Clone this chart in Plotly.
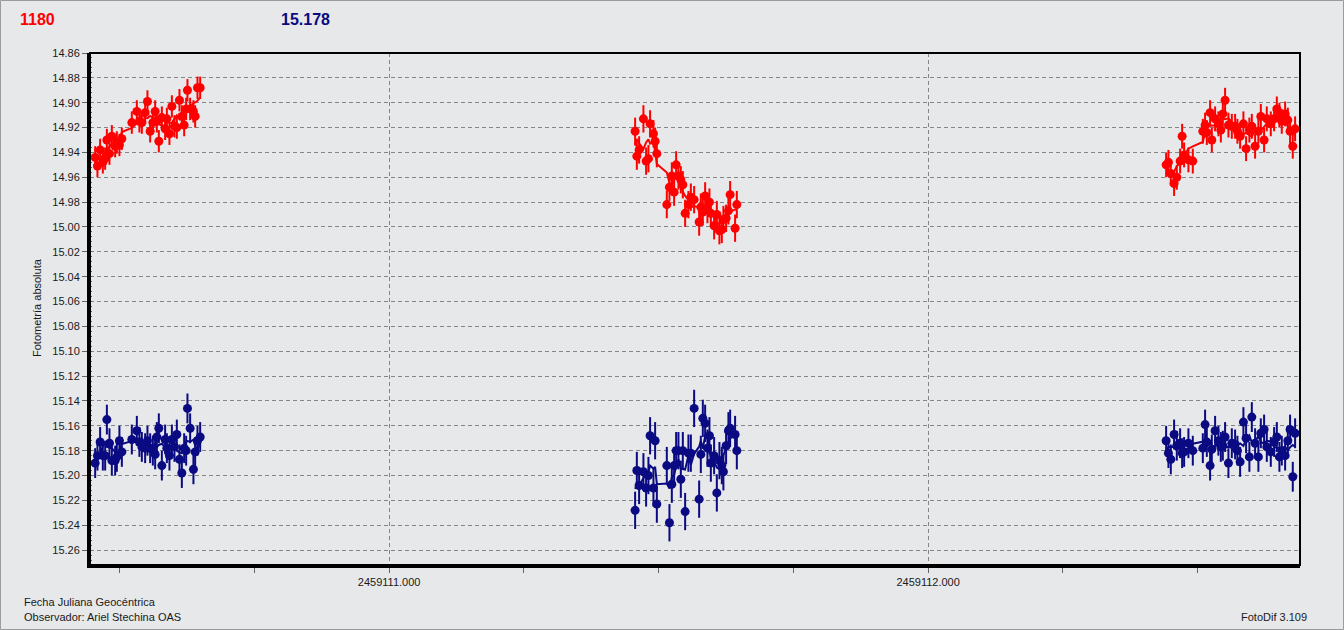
import numpy as np
import plotly.graph_objects as go

JD0 = 2459110.0

# ---- Night 1 ----
t_night1 = [0.4546, 0.4588, 0.4638, 0.4688, 0.4731, 0.4763, 0.4811, 0.4855, 0.4917, 0.4948,
            0.4996, 0.5041, 0.5226, 0.5319, 0.5367, 0.5412, 0.5473, 0.5516, 0.5566, 0.5616,
            0.5659, 0.5690, 0.5727, 0.5783, 0.5844, 0.5876, 0.5924, 0.5969, 0.6017, 0.6061,
            0.6110, 0.6154, 0.6197, 0.6234, 0.6258, 0.6308, 0.6369, 0.6401, 0.6444, 0.6494]
var_night1 = [14.944, 14.951, 14.938, 14.948, 14.945, 14.930, 14.941, 14.927, 14.935, 14.932,
              14.934, 14.929, 14.916, 14.907, 14.915, 14.916, 14.908, 14.899, 14.923, 14.916,
              14.907, 14.915, 14.931, 14.912, 14.921, 14.913, 14.925, 14.903, 14.919, 14.920,
              14.898, 14.911, 14.918, 14.905, 14.890, 14.905, 14.907, 14.911, 14.888, 14.888]
comp_night1 = [15.190, 15.184, 15.173, 15.184, 15.184, 15.155, 15.174, 15.188, 15.188, 15.185,
               15.172, 15.181, 15.171, 15.164, 15.173, 15.177, 15.178, 15.172, 15.178, 15.180,
               15.183, 15.169, 15.162, 15.192, 15.171, 15.178, 15.184, 15.171, 15.177, 15.167,
               15.187, 15.198, 15.178, 15.180, 15.146, 15.162, 15.195, 15.181, 15.172, 15.169]

# ---- Night 2 ----
t_night2 = [1.4564, 1.4596, 1.4638, 1.4718, 1.4768, 1.4811, 1.4842, 1.4904, 1.4935, 1.4967,
            1.5152, 1.5201, 1.5245, 1.5288, 1.5325, 1.5368, 1.5412, 1.5449, 1.5492, 1.5553,
            1.5598, 1.5659, 1.5752, 1.5783, 1.5820, 1.5863, 1.5906, 1.5943, 1.5969, 1.6030,
            1.6080, 1.6128, 1.6173, 1.6202, 1.6252, 1.6295, 1.6327, 1.6419, 1.6451]
var_night2 = [14.923, 14.943, 14.938, 14.913, 14.947, 14.945, 14.917, 14.925, 14.931, 14.941,
              14.982, 14.968, 14.959, 14.972, 14.950, 14.959, 14.962, 14.966, 14.989, 14.982,
              14.976, 14.978, 14.996, 14.984, 14.988, 14.975, 14.986, 14.980, 14.989, 14.999,
              14.990, 15.003, 15.002, 14.994, 14.993, 14.987, 14.974, 15.001, 14.982]
comp_night2 = [15.228, 15.196, 15.208, 15.197, 15.210, 15.200, 15.168, 15.210, 15.172, 15.223,
               15.192, 15.238, 15.207, 15.192, 15.180, 15.180, 15.203, 15.180, 15.229, 15.182,
               15.182, 15.146, 15.219, 15.183, 15.154, 15.158, 15.178, 15.168, 15.190, 15.184,
               15.214, 15.188, 15.192, 15.197, 15.176, 15.164, 15.162, 15.167, 15.180]

# ---- Night 3 ----
t_night3 = [2.4416, 2.4459, 2.4503, 2.4564, 2.4614, 2.4676, 2.4713, 2.4750, 2.4830, 2.4911,
            2.5097, 2.5139, 2.5171, 2.5232, 2.5264, 2.5325, 2.5386, 2.5431, 2.5468, 2.5510,
            2.5572, 2.5635, 2.5696, 2.5739, 2.5789, 2.5850, 2.5900, 2.5961, 2.6006, 2.6067,
            2.6128, 2.6173, 2.6234, 2.6284, 2.6358, 2.6420, 2.6470, 2.6518, 2.6562, 2.6624,
            2.6674, 2.6716, 2.6766, 2.6809]
var_night3 = [14.950, 14.948, 14.957, 14.965, 14.960, 14.947, 14.927, 14.942, 14.946, 14.947,
              14.923, 14.918, 14.924, 14.908, 14.930, 14.913, 14.917, 14.922, 14.909, 14.898,
              14.918, 14.919, 14.919, 14.923, 14.927, 14.917, 14.937, 14.922, 14.919, 14.935,
              14.923, 14.911, 14.930, 14.913, 14.917, 14.913, 14.905, 14.910, 14.915, 14.909,
              14.914, 14.923, 14.935, 14.921]
comp_night3 = [15.172, 15.182, 15.187, 15.167, 15.176, 15.174, 15.182, 15.181, 15.174, 15.180,
               15.178, 15.159, 15.173, 15.192, 15.179, 15.164, 15.172, 15.177, 15.176, 15.169,
               15.190, 15.174, 15.175, 15.180, 15.189, 15.157, 15.170, 15.185, 15.153, 15.174,
               15.185, 15.166, 15.163, 15.177, 15.181, 15.173, 15.169, 15.185, 15.180, 15.184,
               15.172, 15.163, 15.201, 15.166]

# typical error bars per night
err_var = [0.009, 0.011, 0.010]
err_comp = [0.012, 0.015, 0.012]

label_var = "1180"
label_comp = "15.178"
x_ticks = [2459111.0, 2459112.0]
x_ticktext = ["2459111.000", "2459112.000"]

RED = "#ff0000"
NAVY = "#0a0a82"
BG = "#e7e8ea"
FONT = "Liberation Sans"


def running_mean(v, w=5):
    v = np.asarray(v, dtype=float)
    out = []
    for i in range(len(v)):
        lo = max(0, i - w // 2)
        hi = min(len(v), i + w // 2 + 1)
        out.append(v[lo:hi].mean())
    return out


nights = [(t_night1, var_night1, comp_night1),
          (t_night2, var_night2, comp_night2),
          (t_night3, var_night3, comp_night3)]

fig = go.Figure()

for k, (t, mv, mc) in enumerate(nights):
    jd = [JD0 + x for x in t]
    for vals, err, col in ((mv, err_var[k], RED), (mc, err_comp[k], NAVY)):
        fig.add_trace(go.Scatter(
            x=jd, y=running_mean(vals), mode="lines",
            line=dict(color=col, width=2), hoverinfo="skip", showlegend=False))
        fig.add_trace(go.Scatter(
            x=jd, y=vals, mode="markers",
            marker=dict(color=col, size=9, line=dict(width=0)),
            error_y=dict(type="constant", value=err, thickness=2, width=0, color=col),
            showlegend=False))

grid = dict(showgrid=True, gridcolor="#858585", gridwidth=1, griddash="4px,3px",
            zeroline=False, showline=True, linecolor="black", linewidth=3,
            ticks="outside", ticklen=5, tickcolor="#666",
            tickfont=dict(family=FONT, size=11, color="#1a1a1a"))

fig.update_layout(
    width=1344, height=630,
    margin=dict(l=90, r=44, t=53, b=65),
    paper_bgcolor=BG, plot_bgcolor=BG,
    font=dict(family=FONT, size=11, color="#1a1a1a"),
    xaxis=dict(range=[2459110.445, 2459112.690], tickmode="array",
               tickvals=x_ticks, ticktext=x_ticktext,
               minor=dict(dtick=0.25, tick0=2459111.0, ticks="outside", ticklen=5,
                          tickcolor="#666", showgrid=False),
               **grid),
    yaxis=dict(range=[15.272, 14.86], tick0=14.86, dtick=0.02, tickformat=".2f",
               minor=dict(dtick=0.004, tick0=14.86, ticks="inside", ticklen=2,
                          tickcolor="#666", showgrid=False),
               **grid),
    shapes=[
        dict(type="rect", xref="paper", yref="paper", x0=0, x1=1, y0=0, y1=1,
             line=dict(color="black", width=2), layer="above"),
        dict(type="rect", xref="paper", yref="paper", x0=-0.0740, x1=1.0360,
             y0=-0.1260, y1=1.1025, line=dict(color="#9a9a9a", width=1), layer="above"),
    ],
    annotations=[
        dict(text=f"<b>{label_var}</b>", xref="paper", yref="paper", x=-0.0595, y=1.0654,
             xanchor="left", yanchor="middle", showarrow=False,
             font=dict(family=FONT, size=16, color=RED)),
        dict(text=f"<b>{label_comp}</b>", xref="paper", yref="paper", x=0.1562, y=1.0654,
             xanchor="left", yanchor="middle", showarrow=False,
             font=dict(family=FONT, size=16, color=NAVY)),
        dict(text="Fotometría absoluta", xref="paper", yref="paper", x=-0.0438, y=0.502,
             xanchor="center", yanchor="middle", textangle=-90, showarrow=False,
             font=dict(family=FONT, size=11, color="#1a1a1a")),
        dict(text="Fecha Juliana Geocéntrica", xref="paper", yref="paper", x=-0.0562,
             y=-0.0723, xanchor="left", yanchor="middle", showarrow=False,
             font=dict(family=FONT, size=11, color="#1a1a1a")),
        dict(text="Observador: Ariel Stechina OAS", xref="paper", yref="paper", x=-0.0562,
             y=-0.1016, xanchor="left", yanchor="middle", showarrow=False,
             font=dict(family=FONT, size=11, color="#1a1a1a")),
        dict(text="FotoDif 3.109", xref="paper", yref="paper", x=1.0074, y=-0.1016,
             xanchor="right", yanchor="middle", showarrow=False,
             font=dict(family=FONT, size=11, color="#1a1a1a")),
    ],
)

fig.write_html("out.html", config={"displayModeBar": False},
               post_script="document.body.style.margin='0';document.body.style.overflow='hidden';")
